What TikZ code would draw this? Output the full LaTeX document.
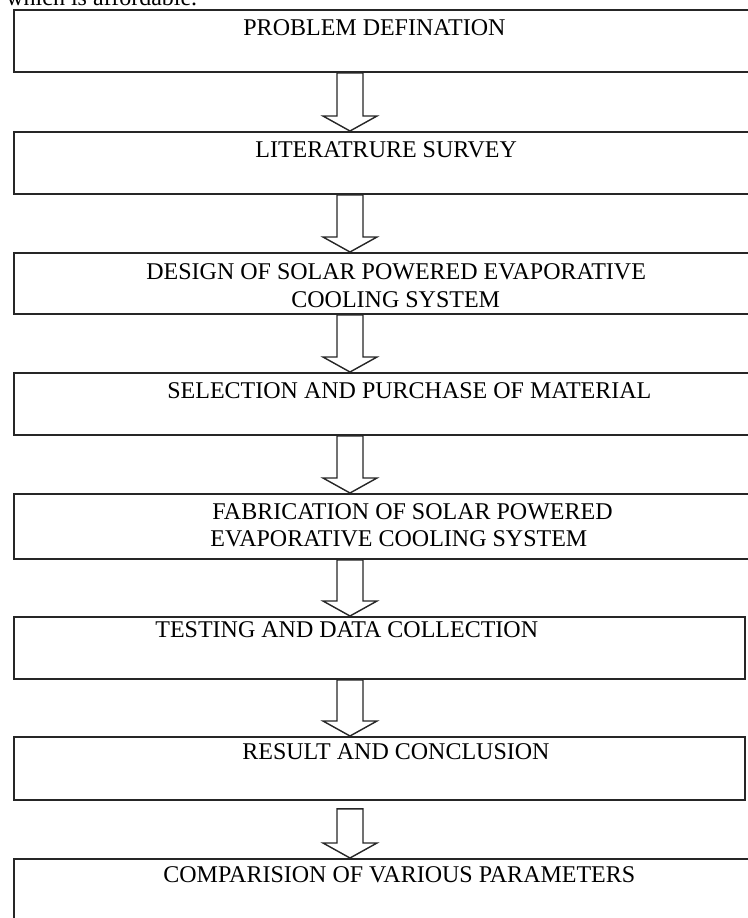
\documentclass[tikz,border=0pt]{standalone}
\usepackage{fontspec}
\setmainfont{Liberation Serif}
\usetikzlibrary{calc, positioning}

\begin{document}
\begin{tikzpicture}[
    % Picture Styling
    x=0.5pt, y=-0.5pt,
    stage/.style={draw=black!85, line width=0.9pt, rectangle, anchor=north west, inner sep=0pt, minimum width=373.5pt},
    short/.style={minimum width=365.5pt},
    caption/.style={anchor=base west, inner sep=0pt, font=\fontsize{12}{14}\selectfont},
    blockarrow/.style={draw=black!85, line width=0.7pt, fill=white, line join=miter}
  ]
  \useasboundingbox (0,0) rectangle (748,918);
  \clip (0,0) rectangle (748,918);

  % Line of text above the chart
  \node[caption] (intro) at (6,5) {which is affordable.};

  % Stages
  \node[stage, minimum height=31pt] (problem) at (13,9) {};
  \node[stage, minimum height=31pt] (survey) at (13,131) {};
  \node[stage, minimum height=30.5pt] (design) at (13,252) {};
  \node[stage, minimum height=31pt] (selection) at (13,372) {};
  \node[stage, minimum height=32.5pt] (fabrication) at (13,493) {};
  \node[stage, short, minimum height=31pt] (testing) at (13,616) {};
  \node[stage, short, minimum height=31.5pt] (result) at (13,736) {};
  \node[stage, minimum height=41pt] (comparison) at (13,858) {};

  % Stage texts
  \node[caption] (t-problem) at (243,35) {PROBLEM DEFINATION};
  \node[caption] (t-survey) at (255,157) {LITERATRURE SURVEY};
  \node[caption] (t-design) at (146,279) {DESIGN OF SOLAR POWERED EVAPORATIVE};
  \node[caption] (t-design2) at (291,307) {COOLING SYSTEM};
  \node[caption] (t-selection) at (167,398) {SELECTION AND PURCHASE OF MATERIAL};
  \node[caption] (t-fabrication) at (212,519) {FABRICATION OF SOLAR POWERED};
  \node[caption] (t-fabrication2) at (210,546) {EVAPORATIVE COOLING SYSTEM};
  \node[caption] (t-testing) at (155,637) {TESTING AND DATA COLLECTION};
  \node[caption] (t-result) at (242,759) {RESULT AND CONCLUSION};
  \node[caption] (t-comparison) at (163,882) {COMPARISION OF VARIOUS PARAMETERS};

  % Block arrows between stages
  \coordinate (spine) at (350,0);
  \foreach \a/\b/\g in {problem/survey/0, survey/design/0, design/selection/0,
      selection/fabrication/0, fabrication/testing/0, testing/result/0, result/comparison/4}
    \draw[blockarrow] let \p1=(spine), \p2=(\a.south), \p3=(\b.north) in
      (\x1-6.5pt,\y2-\g pt) -- (\x1-6.5pt,\y3+7.5pt) -- (\x1-13.5pt,\y3+7.5pt) -- (\x1,\y3)
      -- (\x1+13.5pt,\y3+7.5pt) -- (\x1+6.5pt,\y3+7.5pt) -- (\x1+6.5pt,\y2-\g pt) -- cycle;
\end{tikzpicture}
\end{document}
